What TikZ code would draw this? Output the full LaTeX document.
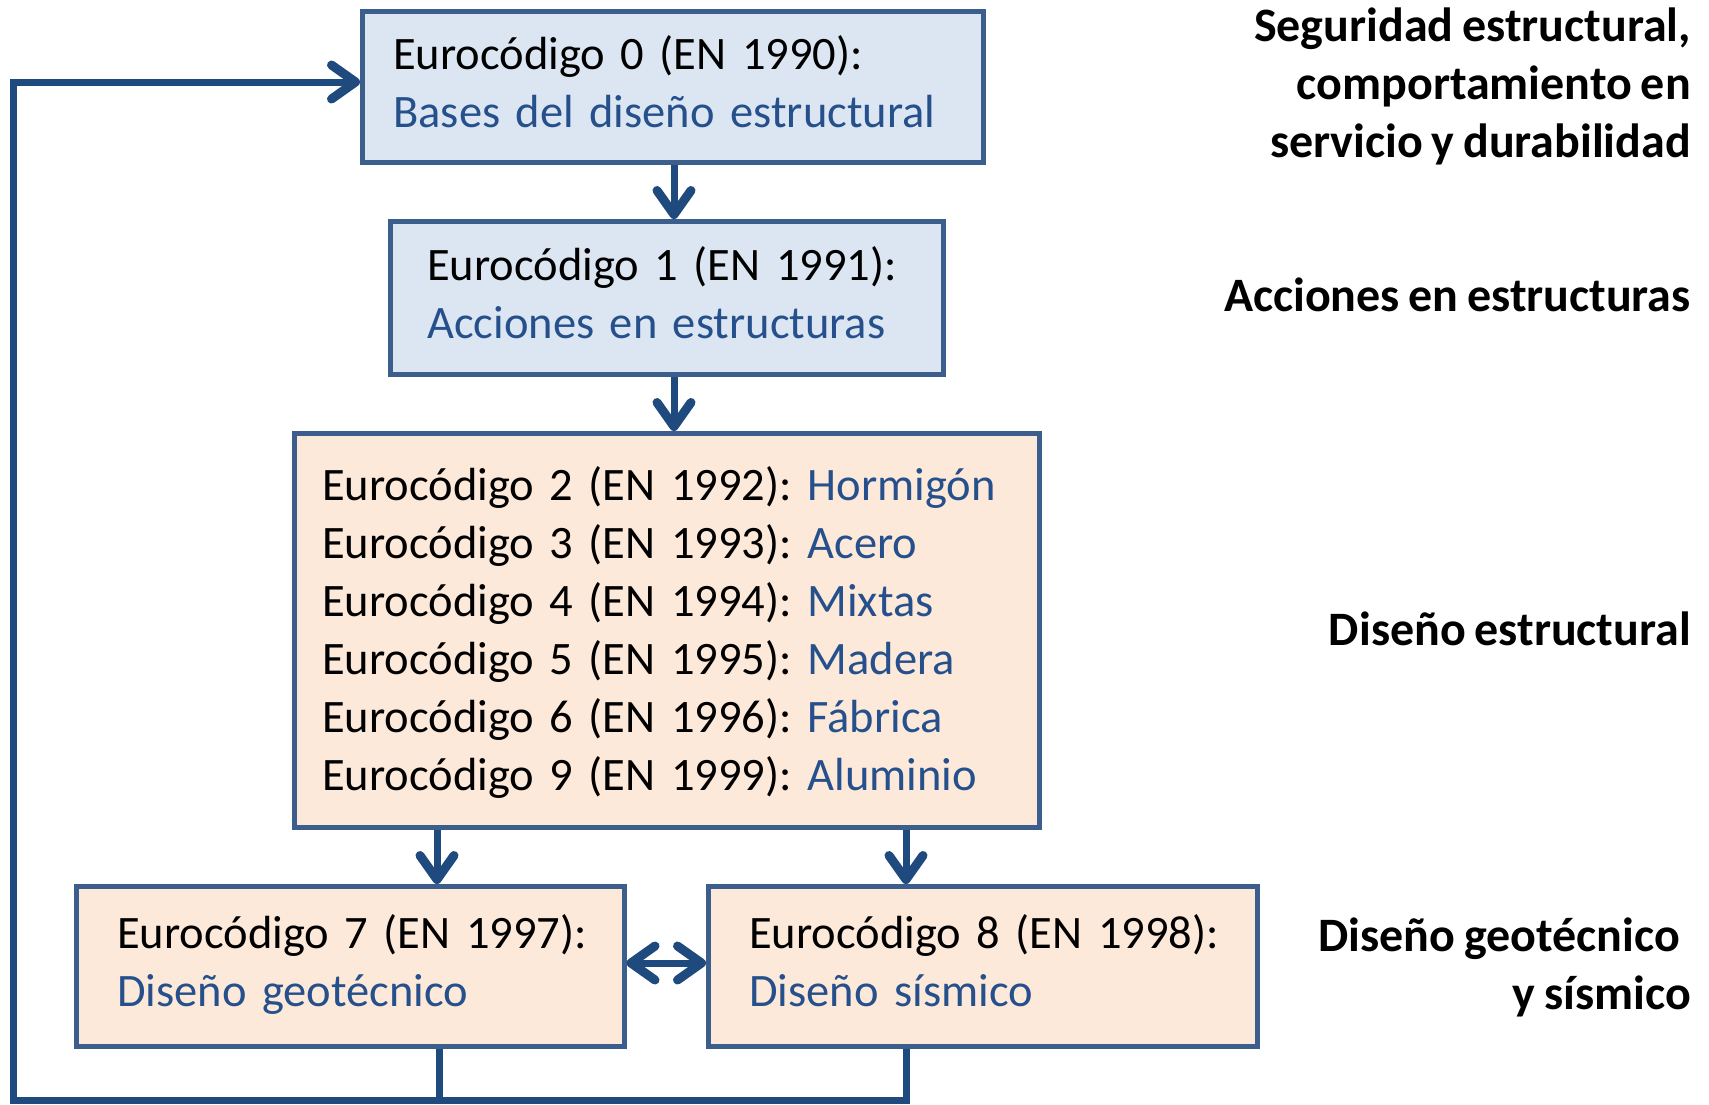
\documentclass[tikz,border=0pt]{standalone}
\usepackage{fontspec}
\setmainfont[WordSpace=0.8]{Carlito}
\usetikzlibrary{arrows.meta}
\definecolor{bordc}{HTML}{3B5E8C}
\definecolor{arrc}{HTML}{1F4A7E}
\definecolor{bluefill}{HTML}{DCE6F2}
\definecolor{peach}{HTML}{FDE9D9}
\definecolor{bluetxt}{HTML}{25508C}
\frenchspacing
\newcommand{\bxline}[1]{\mbox{\strut#1}}
\begin{document}
\begin{tikzpicture}[x=1pt,y=-1pt,
  box/.style={draw=bordc, line width=4.5pt, rectangle, align=left, anchor=north west,
    font=\fontsize{46.5}{58}\selectfont, inner ysep=0pt},
  conn/.style={draw=arrc, line width=7pt},
  arr/.style={conn, -{Straight Barb[length=24pt,width=34pt,line width=9pt,round]}},
  darr/.style={conn, {Straight Barb[length=24pt,width=34pt,line width=9pt,round]}-{Straight Barb[length=24pt,width=34pt,line width=9pt,round]}},
  lab/.style={anchor=east, align=right, font=\bfseries\fontsize{48}{58}\selectfont, inner sep=0pt}
]
\useasboundingbox (0,0) rectangle (1709,1104);
% boxes
\node[box, fill=bluefill, minimum width=621pt, minimum height=151pt, inner xsep=31pt, text width=559pt] (b0) at (360,9)
 {\bxline{Eurocódigo 0 (EN 1990):}\\\bxline{\textcolor{bluetxt}{Bases del diseño estructural}}};
\node[box, fill=bluefill, minimum width=553pt, minimum height=153pt, inner xsep=37pt, text width=479pt] (b1) at (388,219)
 {\bxline{Eurocódigo 1 (EN 1991):}\\\bxline{\textcolor{bluetxt}{Acciones en estructuras}}};
\node[box, fill=peach, minimum width=745pt, minimum height=394pt, inner xsep=28pt, text width=689pt] (b2) at (292,431)
 {\bxline{\rule{0pt}{48pt}Eurocódigo 2 (EN 1992): \textcolor{bluetxt}{Hormigón}}\\
  \bxline{Eurocódigo 3 (EN 1993): \textcolor{bluetxt}{Acero}}\\
  \bxline{Eurocódigo 4 (EN 1994): \textcolor{bluetxt}{Mixtas}}\\
  \bxline{Eurocódigo 5 (EN 1995): \textcolor{bluetxt}{Madera}}\\
  \bxline{Eurocódigo 6 (EN 1996): \textcolor{bluetxt}{Fábrica}}\\
  \bxline{Eurocódigo 9 (EN 1999): \textcolor{bluetxt}{Aluminio}}};
\node[box, fill=peach, minimum width=548pt, minimum height=160pt, inner xsep=41pt, text width=466pt] (b7) at (74,884)
 {\bxline{Eurocódigo 7 (EN 1997):}\\\bxline{\textcolor{bluetxt}{Diseño geotécnico}}};
\node[box, fill=peach, minimum width=549pt, minimum height=160pt, inner xsep=41pt, text width=467pt] (b8) at (706,884)
 {\bxline{Eurocódigo 8 (EN 1998):}\\\bxline{\textcolor{bluetxt}{Diseño sísmico}}};
% right labels
\node[lab] (l0) at (1691,86) {Seguridad estructural,\\comportamiento en\\servicio y durabilidad};
\node[lab] (l1) at (1691,295) {Acciones en estructuras};
\node[lab] (l2) at (1691,629) {Diseño estructural};
\node[lab] (l3) at (1691,967) {Diseño geotécnico\hspace*{11pt}\\y sísmico};
% connectors
\draw[arr] (b0.south -| 674,0) -- (b1.north -| 674,0);
\draw[arr] (b1.south -| 674,0) -- (b2.north -| 674,0);
\draw[arr] (b2.south -| 437,0) -- (b7.north -| 437,0);
\draw[arr] (b2.south -| 906,0) -- (b8.north -| 906,0);
\draw[darr] (b7.east |- 0,963) -- (b8.west |- 0,963);
\coordinate (c1) at (439,1100);
\coordinate (c2) at (13,1100);
\coordinate (c3) at (13,82);
\coordinate (c4) at (906,1100);
\draw[conn, line join=miter] (b7.south -| c1) -- (c1) -- (c2) -- (c3) -- ([xshift=-10pt]c3 -| b0.west);
\draw[arr] (c3) -- (c3 -| b0.west);
\draw[conn, line join=miter] (b8.south -| c4) -- (c4) -- (c1);
\end{tikzpicture}
\end{document}
